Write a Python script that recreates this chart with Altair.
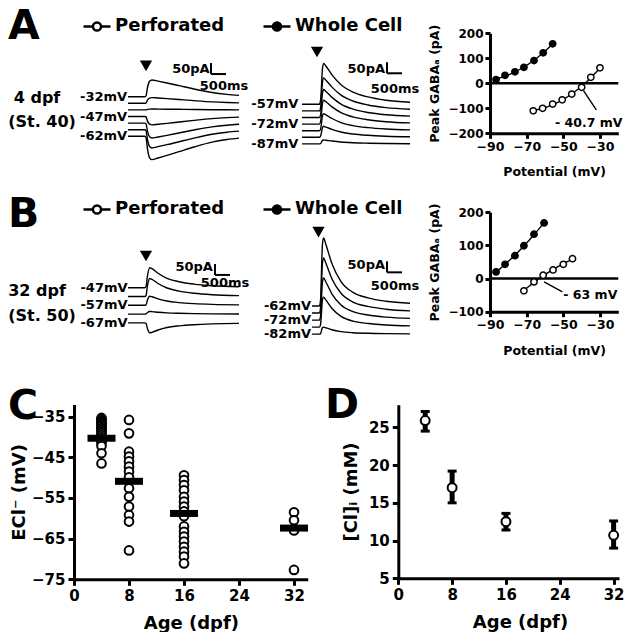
import altair as alt
import pandas as pd

# ---------------- current traces (pA, display units) ----------------
A_PERF_MV = [-32, -37, -42, -47, -52, -57, -62]
A_PERF_PEAK = [76, 26, 4, -38, -68, -83, -106]
A_PERF_T = [0, 560, 600, 650, 720, 800, 1000, 1300, 1700, 2200, 2800, 3300, 3700]
A_PERF_SHAPE = [0, 0, 0.05, 0.55, 0.92, 1.0, 0.93, 0.82, 0.66, 0.46, 0.25, 0.14, 0.08]

A_WHOLE_MV = [-57, -62, -67, -72, -77, -82, -87]
A_WHOLE_PEAK = [186, 150, 127, 109, 77, 50, 18]
A_WHOLE_T = [0, 580, 620, 680, 720, 800, 1000, 1300, 1700, 2200, 2800, 3600]
A_WHOLE_SHAPE = [0, 0, 0.1, 0.85, 1.0, 0.93, 0.72, 0.48, 0.3, 0.18, 0.1, 0.05]

B_PERF_MV = [-47, -52, -57, -62, -67]
B_PERF_PEAK = [91, 82, 41, 12, -45]
B_PERF_T = [0, 560, 600, 650, 720, 800, 1000, 1300, 1700, 2200, 2800, 3700]
B_PERF_SHAPE = [0, 0, 0.05, 0.6, 1.0, 0.95, 0.72, 0.47, 0.3, 0.18, 0.1, 0.05]

B_WHOLE_MV = [-62, -67, -72, -77, -82]
B_WHOLE_PEAK = [309, 250, 191, 136, 32]
B_WHOLE_T = [333, 580, 620, 680, 720, 800, 1000, 1300, 1700, 2200, 2800, 3600]
B_WHOLE_SHAPE = [0, 0, 0.1, 0.9, 1.0, 0.9, 0.62, 0.36, 0.2, 0.12, 0.07, 0.04]

# ---------------- I-V curves ----------------
IVA_PERF_V = [-66.4, -61.3, -55.8, -50.6, -45.4, -40.0, -35.0, -30.0]
IVA_PERF_I = [-110, -100, -83, -66, -43, -16, 24, 62]
IVA_WHOLE_V = [-86.7, -81.8, -76.4, -71.5, -66.0, -61.0, -55.8]
IVA_WHOLE_I = [15, 32, 46, 64, 91, 122, 158]
IVB_PERF_V = [-71.5, -66.0, -61.0, -55.6, -50.0, -45.0]
IVB_PERF_I = [-37, -10, 10, 26, 43, 60]
IVB_WHOLE_V = [-86.7, -81.8, -76.4, -71.5, -66.0, -60.5]
IVB_WHOLE_I = [20, 43, 69, 99, 134, 168]

# ---------------- panel C: E_Cl by age ----------------
C_AGE4 = [-35.3, -35.6, -36.0, -36.3, -36.7, -37.0, -37.4, -37.8, -38.2, -38.6,
          -39.0, -39.5, -40.0, -40.5, -41.0, -41.5, -42.2, -44.0, -46.5]
C_AGE8 = [-35.8, -39.1, -43.6, -44.8, -46.0, -47.3, -48.5, -49.9, -52.6, -54.7,
          -57.1, -59.2, -60.8, -67.9]
C_AGE16 = [-49.4, -50.6, -51.8, -53.1, -54.7, -55.9, -57.1, -58.3, -59.5, -62.0,
           -63.3, -64.5, -65.7, -67.0, -68.2, -69.4, -71.1]
C_AGE32 = [-58.5, -60.5, -62.6, -63.0, -72.7]
C_MEAN_AGE = [4, 8, 16, 32]
C_MEAN = [-40.3, -50.9, -58.8, -62.4]

# ---------------- panel D: [Cl]i ----------------
D_AGE = [4, 8, 16, 32]
D_CL = [25.9, 17.0, 12.5, 10.7]
D_LO = [24.5, 15.0, 11.4, 9.0]
D_HI = [27.1, 19.2, 13.6, 12.6]

FONT = "DejaVu Sans"
SYMBOL = "M-1,0L-0.3,0M0.3,0L1,0M0.3,0A0.3,0.3,0,1,1,-0.3,0A0.3,0.3,0,1,1,0.3,0Z"
W, H = 616, 624          # whole figure, single view
KX, KY = 0.03, 0.22      # px per ms, px per pA in the trace panels


def traces_df(mv, peaks, times, shape, step):
    rows = []
    for k, (v, p) in enumerate(zip(mv, peaks)):
        for t, s in zip(times, shape):
            rows.append({"v": v, "t": t, "i": -k * step + p * s})
    return pd.DataFrame(rows)


def trace_panel(mv, peaks, times, shape, label_idx, P):
    df = traces_df(mv, peaks, times, shape, P["step"])
    x0, b = P["x0"], P["b"]
    xs = alt.Scale(domain=[0, 3700], range=[x0, x0 + 3700 * KX], zero=False, nice=False)
    ys = alt.Scale(domain=[-400, 400], range=[b + 400 * KY, b - 400 * KY],
                   zero=False, nice=False)
    X = alt.X("t:Q", scale=xs, axis=None)
    Y = alt.Y("i:Q", scale=ys, axis=None)

    lines = alt.Chart(df).mark_line(interpolate="monotone", color="black",
                                    strokeWidth=1.4).encode(x=X, y=Y, detail="v:N")
    lab = pd.DataFrame({"t": [P["label_t"]] * len(label_idx),
                        "i": [-k * P["step"] for k in label_idx],
                        "txt": [f"{mv[k]}mV" for k in label_idx]})
    labels = alt.Chart(lab).mark_text(align="right", baseline="middle", fontSize=13,
                                      fontWeight="bold", font=FONT).encode(
        x=X, y=Y, text="txt:N")
    arrow = alt.Chart(pd.DataFrame({"t": [P["arrow"][0]], "i": [P["arrow"][1]]})).mark_point(
        shape="triangle-down", filled=True, color="black", size=150, opacity=1).encode(x=X, y=Y)
    bt, bi = P["bar"]
    bars = pd.DataFrame({"t": [bt, bt], "t2": [bt, bt + 500],
                         "i": [bi, bi], "i2": [bi + 50, bi]})
    sb = alt.Chart(bars).mark_rule(strokeWidth=2, color="black").encode(
        x=X, x2="t2:Q", y=Y, y2="i2:Q")
    t50 = alt.Chart(pd.DataFrame({"t": [P["t50"][0]], "i": [P["t50"][1]], "txt": ["50pA"]})).mark_text(
        align="right", baseline="middle", fontSize=13, fontWeight="bold", font=FONT).encode(
        x=X, y=Y, text="txt:N")
    t500 = alt.Chart(pd.DataFrame({"t": [P["t500"][0]], "i": [P["t500"][1]], "txt": ["500ms"]})).mark_text(
        align="center", baseline="middle", fontSize=13, fontWeight="bold", font=FONT).encode(
        x=X, y=Y, text="txt:N")
    return alt.layer(lines, labels, arrow, sb, t50, t500)


def iv_panel(pv, pi, wv, wi, ydom, yvals, yrange, aline, atext, apos, legend_y):
    df = pd.DataFrame({"V": pv + wv, "I": pi + wi,
                       "rec": ["Perforated"] * len(pv) + ["Whole Cell"] * len(wv)})
    left, right = 482, 610.3
    xs = alt.Scale(domain=[-90, -20], range=[left, right], zero=False, nice=False)
    ys = alt.Scale(domain=ydom, range=yrange, zero=False, nice=False)
    xax = alt.Axis(orient="bottom", offset=yrange[0] - H, values=[-90, -70, -50, -30],
                   title="Potential (mV)", labelFontSize=12.5, titleFontSize=12.5,
                   tickSize=5, labelPadding=2, titlePadding=13, labelOverlap=False,
                   labelFlush=False)
    yax = alt.Axis(orient="left", offset=-left, values=yvals, title="Peak GABAₐ (pA)",
                   labelFontSize=12, titleFontSize=12.5, tickSize=5, labelPadding=2,
                   titlePadding=6, labelOverlap=False, labelFlush=False)
    X = alt.X("V:Q", scale=xs, axis=xax)
    Y = alt.Y("I:Q", scale=ys, axis=yax)
    zero = alt.Chart(pd.DataFrame({"V": [-90], "V2": [-20], "I": [0]})).mark_rule(
        strokeWidth=2.5, color="black").encode(x=X, x2="V2:Q", y=Y)
    fit = alt.Chart(df).transform_regression(
        "V", "I", groupby=["rec"], method="poly", order=2
    ).mark_line(color="black", strokeWidth=1.4).encode(x=X, y=Y, detail="rec:N")
    pts = alt.Chart(df).mark_point(shape="circle", stroke="black", strokeWidth=1.5,
                                   size=40, opacity=1).encode(
        x=X, y=Y,
        fill=alt.Fill("rec:N",
                      scale=alt.Scale(domain=["Perforated", "Whole Cell"],
                                      range=["white", "black"]),
                      legend=alt.Legend(orient="none", legendX=74, legendY=legend_y,
                                        direction="horizontal", title=None,
                                        symbolType=SYMBOL, symbolSize=729,
                                        symbolStrokeWidth=2.5,
                                        symbolStrokeColor="black",
                                        labelFont=FONT, labelFontSize=18,
                                        labelFontWeight="bold", labelColor="black",
                                        columnPadding=33, labelOffset=3,
                                        labelLimit=300, padding=0)))
    ann = alt.Chart(pd.DataFrame({"V": aline[0], "I": aline[1]})).mark_line(
        color="black", strokeWidth=1.4).encode(x=X, y=Y)
    txt = alt.Chart(pd.DataFrame({"V": [apos[0]], "I": [apos[1]], "txt": [atext]})).mark_text(
        align="left", baseline="middle", fontSize=12.5, fontWeight="bold",
        font=FONT).encode(x=X, y=Y, text="txt:N")
    return alt.layer(zero, fit, ann, pts, txt)


def text_label(txt, x, y, size, align="center", baseline="middle"):
    return alt.Chart(pd.DataFrame({"z": [0]})).mark_text(
        align=align, baseline=baseline, fontSize=size, fontWeight="bold",
        font=FONT, color="black").encode(
        x=alt.value(x), y=alt.value(y), text=alt.value(txt))


# ---------------- trace panels (x0, b = pixel of t=0 and of top baseline) ----------------
PA_PERF = dict(x0=120, b=88.7, step=30, label_t=-30, arrow=(600, 140),
               bar=(2767, 103), t50=(2720, 126), t500=(3200, 49))
PA_WHOLE = dict(x0=294, b=96.3, step=30, label_t=-120, arrow=(500, 238),
                bar=(2833, 141), t50=(2767, 160), t500=(3100, 70))
PB_PERF = dict(x0=120, b=279.7, step=40, label_t=-15, arrow=(600, 144),
               bar=(2900, 58), t50=(2830, 95), t500=(3233, 20))
PB_WHOLE = dict(x0=294, b=298, step=32, label_t=300, arrow=(550, 336),
                bar=(2833, 153), t50=(2767, 186), t500=(3100, 91))

perfA = trace_panel(A_PERF_MV, A_PERF_PEAK, A_PERF_T, A_PERF_SHAPE, [0, 3, 6], PA_PERF)
wholeA = trace_panel(A_WHOLE_MV, A_WHOLE_PEAK, A_WHOLE_T, A_WHOLE_SHAPE, [0, 3, 6], PA_WHOLE)
perfB = trace_panel(B_PERF_MV, B_PERF_PEAK, B_PERF_T, B_PERF_SHAPE, [0, 2, 4], PB_PERF)
wholeB = trace_panel(B_WHOLE_MV, B_WHOLE_PEAK, B_WHOLE_T, B_WHOLE_SHAPE, [0, 2, 4], PB_WHOLE)

ivA = iv_panel(IVA_PERF_V, IVA_PERF_I, IVA_WHOLE_V, IVA_WHOLE_I, [-200, 200],
               [-200, -100, 0, 100, 200], [125.3, 25.3],
               ([-39.0, -32.0], [-29, -106]), "- 40.7 mV", (-54.5, -158), 3)
ivB = iv_panel(IVB_PERF_V, IVB_PERF_I, IVB_WHOLE_V, IVB_WHOLE_I, [-100, 200],
               [-100, 0, 100, 200], [303.7, 204.3],
               ([-60.5, -50.5], [-10, -40]), "- 63 mV", (-50.0, -49), 186)

# ---------------- panel C ----------------
c_df = pd.DataFrame({
    "age": [4] * len(C_AGE4) + [8] * len(C_AGE8) + [16] * len(C_AGE16) + [32] * len(C_AGE32),
    "ecl": C_AGE4 + C_AGE8 + C_AGE16 + C_AGE32})
c_mean = pd.DataFrame({"age": C_MEAN_AGE, "ecl": C_MEAN})
cx = alt.Scale(domain=[0, 34], range=[66, 299.75], zero=False, nice=False)
cy = alt.Scale(domain=[-75, -32], range=[571.3, 396.5], zero=False, nice=False)
cxax = alt.Axis(orient="bottom", offset=571.3 - H, values=[0, 8, 16, 24, 32],
                title="Age (dpf)", labelFontSize=15, titleFontSize=18, tickSize=6,
                labelPadding=3, titlePadding=11, labelOverlap=False, labelFlush=False)
cyax = alt.Axis(orient="left", offset=-66, values=[-35, -45, -55, -65, -75],
                title="ECl⁻ (mV)", labelFontSize=15, titleFontSize=18, tickSize=6,
                labelPadding=3, titlePadding=3, labelOverlap=False, labelFlush=False)
CX = alt.X("age:Q", scale=cx, axis=cxax)
CY = alt.Y("ecl:Q", scale=cy, axis=cyax)
c_pts = alt.Chart(c_df).mark_point(shape="circle", stroke="black", strokeWidth=2,
                                   size=75, fill="white", filled=False, opacity=1).encode(
    x=CX, y=CY)
c_bar = alt.Chart(c_mean).mark_tick(orient="horizontal", color="black", thickness=7,
                                    size=28, opacity=1).encode(x=CX, y=CY)
panelC = alt.layer(c_pts, c_bar)

# ---------------- panel D ----------------
d_df = pd.DataFrame({"age": D_AGE, "cl": D_CL, "lo": D_LO, "hi": D_HI})
dx = alt.Scale(domain=[0, 32.8], range=[390.3, 611], zero=False, nice=False)
dy = alt.Scale(domain=[5, 28], range=[570.3, 396.7], zero=False, nice=False)
dxax = alt.Axis(orient="bottom", offset=570.3 - H, values=[0, 8, 16, 24, 32],
                title="Age (dpf)", labelFontSize=15, titleFontSize=18, tickSize=6,
                labelPadding=3, titlePadding=11, titleX=512, labelOverlap=False,
                labelFlush=False)
dyax = alt.Axis(orient="left", offset=-390.3, values=[5, 10, 15, 20, 25],
                title="[Cl]ᵢ (mM)", labelFontSize=15, titleFontSize=18, tickSize=6,
                labelPadding=3, titlePadding=8, labelOverlap=False, labelFlush=False)
DX = alt.X("age:Q", scale=dx, axis=dxax)
d_err = alt.Chart(d_df).mark_rule(strokeWidth=5, color="black").encode(
    x=DX, y=alt.Y("lo:Q", scale=dy, axis=dyax), y2="hi:Q")
d_caps_lo = alt.Chart(d_df).mark_tick(orient="horizontal", color="black", thickness=3,
                                      size=9, opacity=1).encode(
    x=DX, y=alt.Y("lo:Q", scale=dy, axis=dyax))
d_caps_hi = alt.Chart(d_df).mark_tick(orient="horizontal", color="black", thickness=3,
                                      size=9, opacity=1).encode(
    x=DX, y=alt.Y("hi:Q", scale=dy, axis=dyax))
d_pts = alt.Chart(d_df).mark_point(shape="circle", stroke="black", strokeWidth=2,
                                   size=80, fill="white", filled=True, opacity=1).encode(
    x=DX, y=alt.Y("cl:Q", scale=dy, axis=dyax))
panelD = alt.layer(d_err, d_caps_lo, d_caps_hi, d_pts)

# ---------------- panel letters and stage labels ----------------
labels = [
    text_label("A", 0, 31, 41, "left", "alphabetic"),
    text_label("4 dpf", 29, 90, 16),
    text_label("(St. 40)", 34, 114, 16),
    text_label("B", 0, 219, 41, "left", "alphabetic"),
    text_label("32 dpf", 29, 283, 16),
    text_label("(St. 50)", 34, 308, 16),
    text_label("C", 0, 411, 41, "left", "alphabetic"),
    text_label("D", 317, 410, 41, "left", "alphabetic"),
]

chart = alt.layer(
    perfA, wholeA, ivA, perfB, wholeB, ivB, panelC, panelD, *labels
).resolve_scale(x="independent", y="independent", fill="independent").properties(
    width=W, height=H, padding=0, autosize=alt.AutoSizeParams(type="none"),
    background="white").configure_view(stroke=None).configure_axis(
    domainColor="black", tickColor="black", labelColor="black", titleColor="black",
    labelFontWeight="bold", titleFontWeight="bold", grid=False, domainWidth=3,
    tickWidth=3, labelFont=FONT, titleFont=FONT)

chart.save("out.html", embed_options={"renderer": "svg", "actions": False})
